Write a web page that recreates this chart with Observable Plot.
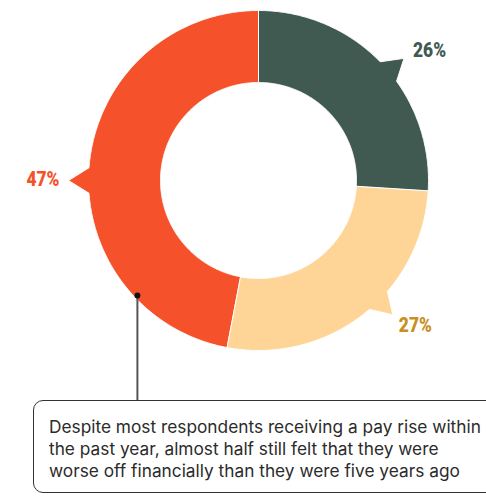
<!DOCTYPE html>
<html><head><meta charset="utf-8">
<script src="https://cdn.jsdelivr.net/npm/d3@7"></script>
<script src="https://cdn.jsdelivr.net/npm/@observablehq/plot@0.6"></script>
<style>
html,body{margin:0;padding:0;background:#fff;overflow:hidden;width:486px;height:497px;}
#chart svg{display:block;overflow:visible}
.note{margin-left:33px;width:490px;box-sizing:border-box;border:1.5px solid #333;border-radius:10px;padding:15px 0 10px 15px;font-family:Inter,"Noto Sans",sans-serif;font-size:17.3px;line-height:22px;color:#2b2b2b;white-space:nowrap;}
</style></head><body>
<div id="chart"></div>
<div class="note" id="note"></div>
<script>
// ---- data ----
const labels = ["26%", "27%", "47%"];
const values = [26, 27, 47];
const pointerAngles = [50, 135, 270];   // degrees clockwise from top, where each callout tip points
const noteLines = [
  "Despite most respondents receiving a pay rise within",
  "the past year, almost half still felt that they were",
  "worse off financially than they were five years ago"
];
const annotationAngle = 226.5; // position of the annotation dot (degrees)

// ---- layout ----
const W = 486, H = 400, CX = 258, CY = 180, R = 170;
const inner = 98 / R, tipR = 190 / R, halfW = 4.3 * Math.PI / 180;
const sliceColors = ["#405a51", "#ffd597", "#f5522b"];
const labelColors = ["#405a51", "#c8901e", "#f5522b"];

const pie = d3.pie().sort(null)(values);
const rows = [];
pie.forEach((s, i) => {
  const a0 = s.startAngle, a1 = s.endAngle;
  const pa = pointerAngles[i] * Math.PI / 180;
  const n = Math.ceil((a1 - a0) / (0.4 * Math.PI / 180));
  let outer = [];
  for (let k = 0; k <= n; k++) {
    const a = a0 + (a1 - a0) * k / n;
    if (a > pa - halfW && a < pa + halfW) continue;
    outer.push([a, 1]);
  }
  outer.push([pa - halfW, 1], [pa - 0.0001, tipR], [pa + halfW, 1]);
  outer.sort((p, q) => p[0] - q[0]);
  const ring = [...outer];
  for (let k = n; k >= 0; k--) ring.push([a0 + (a1 - a0) * k / n, inner]);
  ring.forEach(([a, r], j) => rows.push({label: labels[i], x: r * Math.sin(a), y: r * Math.cos(a), j}));
});

const tips = labels.map((label, i) => {
  const a = pointerAngles[i] * Math.PI / 180;
  return {label, x: tipR * Math.sin(a), y: tipR * Math.cos(a)};
});
const aa = annotationAngle * Math.PI / 180;
const anno = [{x: 0.982 * Math.sin(aa), y: 0.982 * Math.cos(aa)}];
const yMin = -(H - CY) / R;

const labelStyle = [
  {textAnchor: "start", dx: 9, dy: -1},
  {textAnchor: "start", dx: 6, dy: 17},
  {textAnchor: "end", dx: -9, dy: 5}
];

const plot = Plot.plot({
  width: W, height: H,
  margin: 0,
  x: {domain: [-CX / R, (W - CX) / R], axis: null},
  y: {domain: [yMin, CY / R], axis: null},
  color: {domain: labels, range: sliceColors},
  style: {background: "transparent"},
  marks: [
    Plot.line(rows, {x: "x", y: "y", z: "label", fill: "label", stroke: "white", strokeWidth: 1, curve: "linear-closed"}),
    ...labels.map((lab, i) => Plot.text([tips[i]], {
      x: "x", y: "y", text: "label", fill: labelColors[i],
      fontSize: 21, fontWeight: 900,
      fontFamily: "Roboto,sans-serif", className: "pct",
      lineAnchor: "bottom", ...labelStyle[i]
    })),
    Plot.ruleX(anno, {x: "x", y1: "y", y2: yMin, stroke: "#555", strokeWidth: 2}),
    Plot.dot(anno, {x: "x", y: "y", r: 3, fill: "#111", stroke: null})
  ]
});
plot.querySelectorAll(".pct text").forEach(t => {
  t.setAttribute("textLength", 33);
  t.setAttribute("lengthAdjust", "spacingAndGlyphs");
});
document.getElementById("chart").appendChild(plot);
document.getElementById("note").innerHTML = noteLines.join("<br>");
</script>
</body></html>
